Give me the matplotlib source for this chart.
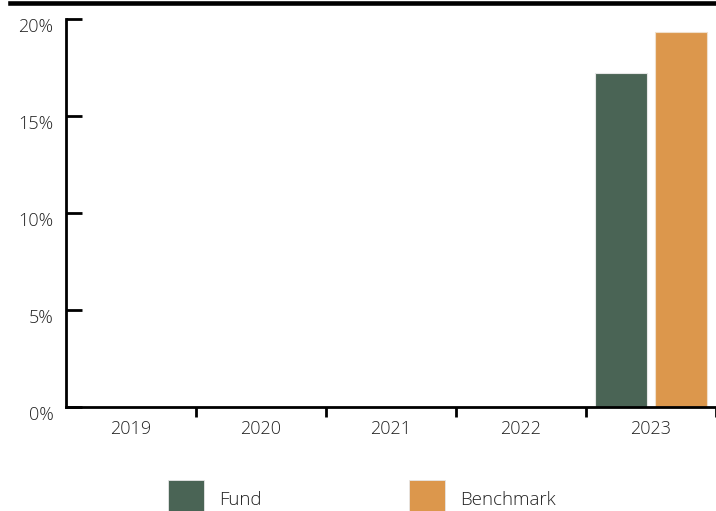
import numpy as np
import matplotlib
matplotlib.use('Agg')
import matplotlib.pyplot as plt
from matplotlib import rcParams
from matplotlib.lines import Line2D
from matplotlib.patches import Rectangle
import matplotlib.transforms as mtransforms

# data
years = ['2019', '2020', '2021', '2022', '2023']
fund = [np.nan, np.nan, np.nan, np.nan, 17.2]
benchmark = [np.nan, np.nan, np.nan, np.nan, 19.35]
y_ticks = [0, 5, 10, 15, 20]
y_ticklabels = ['0%', '5%', '10%', '15%', '20%']
series_names = ['Fund', 'Benchmark']
series_colors = ['#4A6455', '#DC974C']

rcParams['font.family'] = ['Open Sans', 'DejaVu Sans']
rcParams['font.weight'] = 'light'
rcParams['font.size'] = 13
rcParams['text.color'] = '#222222'
rcParams['xtick.color'] = '#000000'
rcParams['ytick.color'] = '#000000'
rcParams['xtick.labelcolor'] = '#222222'
rcParams['ytick.labelcolor'] = '#222222'

W, H = 716, 511
fig = plt.figure(figsize=(W / 100, H / 100), dpi=100)
ax = fig.add_axes([66 / W, 1 - 407 / H, 1 - 66 / W, (407 - 19) / H])

x = np.arange(len(years))
w = 0.4
off = 0.227
ax.bar(x - off, fund, w, color=series_colors[0], edgecolor='#e6e6e6', linewidth=0.8)
ax.bar(x + off, benchmark, w, color=series_colors[1], edgecolor='#f0e0cc', linewidth=0.8)

ax.set_xlim(-0.5, len(years) - 0.5)
ax.set_ylim(0, 20)

for s in ['top', 'right']:
    ax.spines[s].set_visible(False)
ax.spines['left'].set_linewidth(2)
ax.spines['bottom'].set_linewidth(2)

ax.set_yticks(y_ticks)
ax.set_yticklabels(y_ticklabels)
ax.tick_params(axis='y', direction='in', length=11.5, width=2, pad=9, labelsize=13)
offset = mtransforms.ScaledTranslation(0, -6 / 100, fig.dpi_scale_trans)
for lab in ax.get_yticklabels():
    lab.set_transform(lab.get_transform() + offset)

ax.set_xticks(x)
ax.set_xticklabels(years)
ax.set_xticks(np.arange(len(years)) + 0.5, minor=True)
ax.tick_params(axis='x', which='major', length=0, pad=9, labelsize=13)
ax.tick_params(axis='x', which='minor', direction='out', length=7, width=2)

# top rule
fig.add_artist(Line2D([10 / W, 1], [1 - 3 / H, 1 - 3 / H], color='black', lw=3.3,
                      transform=fig.transFigure))

# legend (drawn by hand, swatches run off the bottom edge)
for name, col, x0 in zip(series_names, series_colors, [168, 409]):
    fig.add_artist(Rectangle((x0 / W, 1 - 515 / H), 36 / W, 35 / H, transform=fig.transFigure,
                             facecolor=col, edgecolor='#e6e6e6', linewidth=0.6))
    fig.text((x0 + 51) / W, 1 - 500 / H, name, ha='left', va='center', fontsize=13.5)

fig.savefig('out.png', dpi=100)
